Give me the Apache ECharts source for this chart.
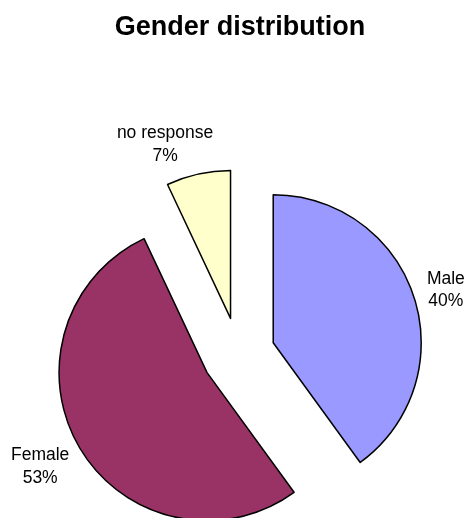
<!DOCTYPE html>
<html>
<head>
<meta charset="utf-8">
<script src="https://cdn.jsdelivr.net/npm/echarts@6/dist/echarts.min.js"></script>
<style>html,body{margin:0;padding:0;background:#fff}#c{width:466px;height:518px}</style>
</head>
<body>
<div id="c"></div>
<script>
var categories = ['Male', 'Female', 'no response'];
var values = [40, 53, 7];
var colors = ['#9999FF', '#993366', '#FFFFCC'];
var labelLen = [22, 37, 30];
var labelDist = [-8, -21.5, -21.5];

var chart = echarts.init(document.getElementById('c'));
chart.setOption({
  animation: false,
  backgroundColor: '#ffffff',
  title: {
    text: 'Gender distribution',
    left: 235,
    top: 9,
    textAlign: 'center',
    textStyle: { fontFamily: 'Liberation Sans', fontSize: 27, fontWeight: 'bold', color: '#000' }
  },
  series: [{
    type: 'pie',
    center: [238.5, 354],
    radius: 148,
    startAngle: 90,
    clockwise: true,
    selectedMode: 'multiple',
    selectedOffset: 36.5,
    avoidLabelOverlap: false,
    itemStyle: { borderColor: '#000', borderWidth: 1.5 },
    label: {
      show: true,
      position: 'outside',
      fontFamily: 'Liberation Sans',
      fontSize: 17.5,
      lineHeight: 22.5,
      color: '#000',
      formatter: '{t|{b}}\n{t|{d}%}',
      rich: { t: { align: 'center', fontFamily: 'Liberation Sans', fontSize: 17.5, lineHeight: 22.5, color: '#000' } }
    },
    labelLine: { show: false, length2: 0 },
    emphasis: { disabled: true },
    data: categories.map(function (c, i) {
      return {
        name: c,
        value: values[i],
        selected: true,
        itemStyle: { color: colors[i] },
        label: { distanceToLabelLine: labelDist[i] },
        labelLine: { show: false, length: labelLen[i], length2: 0 },
        select: { itemStyle: { color: colors[i], borderColor: '#000', borderWidth: 1.5 } }
      };
    })
  }]
});
</script>
</body>
</html>
